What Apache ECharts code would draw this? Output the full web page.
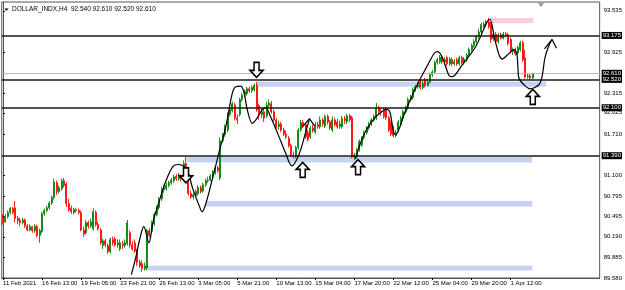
<!DOCTYPE html>
<html>
<head>
<meta charset="utf-8">
<script src="https://cdn.jsdelivr.net/npm/echarts@6/dist/echarts.min.js"></script>
<style>
  html, body { margin: 0; padding: 0; background: #fff; }
  #chart { width: 625px; height: 290px; }
</style>
</head>
<body>
<div id="chart"></div>
<script>
const symbolName = 'DOLLAR_INDX,H4'
const lastQuote = [92.540, 92.610, 92.520, 92.610]

// one label every 16 H4 bars
const timeLabels = ['11 Feb 2021', '16 Feb 13:00', '19 Feb 05:00', '23 Feb 21:00', '26 Feb 13:00',
  '3 Mar 05:00', '5 Mar 21:00', '10 Mar 13:00', '15 Mar 04:00', '17 Mar 20:00',
  '22 Mar 12:00', '25 Mar 04:00', '29 Mar 20:00', '1 Apr 12:00']
const labelStep = 16
const slotCount = 245

const priceTicks = [93.535, 92.925, 92.315, 92.025, 91.710, 91.100, 90.795, 90.495, 90.190, 89.885, 89.580]
const levels = [93.175, 92.520, 92.100, 91.390]
const bidPrice = 92.610

// [open, close, low, high]
const candles = [
  [90.47,90.41,90.37,90.52],[90.41,90.49,90.40,90.53],[90.49,90.55,90.46,90.58],[90.55,90.61,90.52,90.63],
  [90.61,90.55,90.52,90.63],[90.62,90.46,90.40,90.72],[90.46,90.43,90.38,90.50],[90.43,90.40,90.35,90.47],
  [90.40,90.44,90.37,90.47],[90.44,90.35,90.32,90.46],[90.35,90.29,90.27,90.38],[90.29,90.34,90.27,90.37],
  [90.34,90.28,90.25,90.35],[90.28,90.35,90.25,90.38],[90.34,90.21,90.18,90.37],[90.21,90.28,90.10,90.31],
  [90.27,90.53,90.24,90.56],[90.53,90.58,90.50,90.61],[90.58,90.62,90.55,90.65],[90.62,90.69,90.59,90.72],
  [90.69,90.77,90.66,90.80],[90.77,91.00,90.74,91.05],[90.99,90.86,90.81,91.02],[90.86,90.92,90.83,90.95],
  [90.90,91.02,90.87,91.05],[91.02,90.95,90.92,91.06],[90.97,90.68,90.63,91.00],[90.68,90.59,90.56,90.75],
  [90.61,90.56,90.53,90.65],[90.55,90.59,90.52,90.62],[90.59,90.58,90.55,90.62],[90.58,90.55,90.52,90.61],
  [90.55,90.29,90.27,90.58],[90.29,90.23,90.19,90.34],[90.25,90.40,90.22,90.44],[90.40,90.35,90.31,90.43],
  [90.35,90.41,90.32,90.46],[90.31,90.56,90.28,90.61],[90.55,90.37,90.34,90.58],[90.37,90.31,90.28,90.41],
  [90.29,90.10,90.07,90.32],[90.06,90.13,90.01,90.16],[90.13,90.07,90.04,90.16],[90.06,89.97,89.94,90.09],
  [89.97,90.15,89.94,90.18],[90.15,90.10,90.06,90.19],[90.16,90.07,90.04,90.19],[90.07,90.10,90.03,90.15],
  [90.01,90.10,89.98,90.15],[90.09,90.06,90.01,90.13],[90.06,90.10,90.03,90.15],[90.09,90.40,90.06,90.44],
  [90.25,90.07,90.03,90.28],[90.07,90.01,89.98,90.12],[90.10,89.98,89.95,90.15],[89.98,89.81,89.76,90.01],
  [89.81,89.76,89.73,89.85],[89.79,89.72,89.67,89.84],[89.72,89.76,89.69,89.81],[89.73,90.28,89.70,90.31],
  [90.28,90.21,90.18,90.32],[90.27,90.38,90.24,90.43],[90.38,90.52,90.35,90.55],[90.52,90.62,90.49,90.65],
  [90.62,90.74,90.59,90.78],[90.75,90.89,90.72,90.93],[90.89,90.92,90.84,90.96],[90.90,90.95,90.87,90.99],
  [90.95,90.99,90.92,91.02],[90.99,91.03,90.96,91.06],[91.02,91.08,90.99,91.11],[91.08,91.05,91.02,91.12],
  [91.05,91.09,91.02,91.14],[91.09,91.05,91.01,91.12],[91.08,91.27,91.05,91.32],[91.27,91.06,91.03,91.37],
  [91.06,90.83,90.80,91.09],[90.83,90.78,90.75,90.87],[90.78,90.81,90.74,90.84],[90.80,90.86,90.77,90.89],
  [90.83,90.92,90.80,90.95],[90.92,90.86,90.83,90.95],[90.87,90.96,90.84,90.99],[90.96,91.02,90.93,91.05],
  [91.02,91.03,90.99,91.08],[91.03,91.09,91.01,91.12],[91.09,91.15,91.06,91.18],[91.14,91.21,91.11,91.24],
  [91.21,91.17,91.14,91.24],[91.06,91.61,91.03,91.66],[91.61,91.70,91.58,91.73],[91.70,91.80,91.67,91.85],
  [91.77,92.00,91.74,92.03],[92.00,92.07,91.97,92.11],[92.06,92.16,92.03,92.19],[92.14,91.95,91.91,92.17],
  [91.95,91.92,91.86,92.00],[92.00,92.22,91.97,92.25],[92.22,92.29,92.19,92.32],[92.29,92.34,92.25,92.37],
  [92.31,92.38,92.28,92.41],[92.38,92.35,92.32,92.41],[92.35,92.40,92.32,92.43],[92.37,92.43,92.34,92.46],
  [92.43,92.07,92.04,92.48],[92.13,92.00,91.92,92.16],[92.00,92.04,91.95,92.10],[92.04,91.95,91.89,92.08],
  [91.98,92.14,91.95,92.19],[92.14,92.17,92.10,92.22],[92.16,92.04,92.01,92.20],[92.04,91.92,91.89,92.07],
  [91.92,91.82,91.79,91.95],[91.82,91.86,91.77,91.91],[91.86,91.77,91.74,91.89],[91.77,91.71,91.68,91.80],
  [91.71,91.67,91.64,91.76],[91.65,91.54,91.51,91.68],[91.54,91.40,91.37,91.57],[91.40,91.39,91.35,91.45],
  [91.37,91.51,91.35,91.54],[91.51,91.77,91.48,91.80],[91.77,91.88,91.74,91.92],[91.88,91.83,91.80,91.92],
  [91.85,91.67,91.64,91.88],[91.73,91.63,91.60,91.77],[91.67,91.80,91.64,91.83],[91.80,91.76,91.73,91.85],
  [91.74,91.85,91.71,91.89],[91.85,91.82,91.79,91.89],[91.82,91.92,91.79,91.97],[91.92,91.86,91.82,91.95],
  [91.83,91.97,91.80,92.00],[91.97,91.89,91.85,92.00],[91.89,91.80,91.77,91.92],[91.77,91.92,91.74,91.97],
  [91.92,91.85,91.82,91.95],[91.89,91.82,91.79,91.94],[91.82,91.86,91.79,91.91],[91.82,91.94,91.79,91.98],
  [91.94,91.91,91.86,91.98],[91.89,91.98,91.86,92.01],[91.98,91.92,91.89,92.01],[91.95,91.37,91.35,91.98],
  [91.37,91.40,91.33,91.43],[91.37,91.48,91.35,91.51],[91.48,91.60,91.45,91.63],[91.55,91.66,91.52,91.68],
  [91.66,91.73,91.63,91.76],[91.73,91.80,91.70,91.83],[91.80,91.86,91.77,91.89],[91.86,91.92,91.83,91.95],
  [91.92,91.97,91.89,92.00],[91.95,92.10,91.92,92.17],[92.10,92.04,92.01,92.13],[92.04,92.03,91.98,92.08],
  [92.07,91.97,91.94,92.10],[92.07,91.95,91.92,92.10],[91.95,91.77,91.74,91.98],[91.88,91.71,91.68,91.91],
  [91.80,91.69,91.66,91.83],[91.69,91.73,91.66,91.77],[91.77,91.89,91.74,91.92],[91.85,91.95,91.82,91.98],
  [91.95,92.04,91.92,92.07],[92.04,92.10,92.01,92.13],[92.10,92.22,92.07,92.25],[92.22,92.25,92.19,92.29],
  [92.25,92.37,92.22,92.40],[92.37,92.41,92.34,92.44],[92.41,92.44,92.38,92.48],[92.48,92.40,92.37,92.51],
  [92.40,92.46,92.37,92.50],[92.51,92.43,92.40,92.54],[92.43,92.48,92.41,92.53],[92.48,92.59,92.46,92.62],
  [92.59,92.63,92.56,92.66],[92.63,92.77,92.60,92.80],[92.77,92.81,92.74,92.84],[92.78,92.85,92.75,92.88],
  [92.85,92.78,92.75,92.88],[92.78,92.81,92.74,92.85],[92.84,92.75,92.72,92.87],[92.75,92.82,92.72,92.85],
  [92.81,92.75,92.72,92.84],[92.75,92.78,92.72,92.82],[92.81,92.75,92.72,92.84],[92.75,92.84,92.72,92.87],
  [92.84,92.77,92.74,92.87],[92.77,92.82,92.74,92.85],[92.81,92.88,92.78,92.91],[92.88,92.96,92.85,92.99],
  [92.96,93.02,92.93,93.05],[93.02,93.08,92.99,93.11],[93.08,93.15,93.05,93.18],[93.15,93.22,93.12,93.27],
  [93.22,93.33,93.19,93.36],[93.31,93.34,93.28,93.37],[93.34,93.37,93.30,93.40],[93.37,93.30,93.27,93.43],
  [93.33,93.11,93.06,93.37],[93.19,93.13,93.09,93.24],[93.19,93.08,93.05,93.22],[93.08,93.17,93.05,93.21],
  [93.18,93.13,93.11,93.21],[93.13,93.19,93.11,93.22],[93.19,93.17,93.14,93.22],[93.18,93.05,93.02,93.21],
  [93.11,92.93,92.90,93.14],[92.93,92.96,92.88,92.99],[92.96,92.90,92.87,92.99],[92.91,92.99,92.88,93.02],
  [92.96,93.06,92.93,93.09],[93.06,92.81,92.78,93.09],[92.84,92.56,92.53,92.96],[92.56,92.57,92.53,92.60],
  [92.57,92.54,92.51,92.60],[92.54,92.61,92.52,92.61]
]

// zones: [fromBar, toBar, top, bottom]
const blueZones = [
  [103.7, 222.6, 92.49, 92.41],
  [75.2, 216.9, 91.37, 91.29],
  [83.1, 216.9, 90.72, 90.64],
  [58.3, 216.9, 89.76, 89.69]
]
const pinkZones = [[199.7, 217.3, 93.43, 93.35]]

// hand drawn swings: [bar position, price]
const swingA = [
  [52.6,89.63],[54.4,89.88],[56.0,90.15],[57.7,90.34],[59.8,90.10],[61.4,90.40],[64.2,90.74],[66.9,91.03],
  [69.6,91.23],[71.6,91.26],[73.7,91.24],[75.7,91.16],[77.7,90.91],[80.5,90.64],[81.6,90.56],[83.2,90.69],
  [85.9,91.06],[88.6,91.45],[91.3,91.82],[94.0,92.32],[95.4,92.41],[97.4,92.42],[98.8,92.32],[100.1,92.07],
  [102.2,91.87],[104.2,91.95],[106.2,92.07],[107.6,92.10],[109.6,91.97],[113.0,91.68],[115.8,91.43],
  [118.4,91.24],[121.2,91.40],[123.9,91.72],[125.6,91.94]
]
const headA = [[122.8,91.82],[125.6,91.94],[127.7,91.83]]
const swingB = [
  [144.3,91.34],[145.6,91.48],[147.6,91.68],[149.7,91.82],[152.4,91.95],[155.1,92.04],[157.1,92.08],
  [158.5,92.04],[159.9,91.77],[160.8,91.70],[165.1,92.07],[170.0,92.46],[173.4,92.69],[176.8,92.91],
  [178.2,92.93],[180.2,92.83],[182.9,92.57],[184.2,92.56],[187.7,92.71],[193.8,93.01],[198.5,93.38],
  [199.6,93.41],[201.3,93.15],[203.3,92.88],[204.6,92.82],[206.7,92.88],[209.4,92.96],[210.5,92.91],
  [211.0,92.71],[211.4,92.54],[213.5,92.44],[216.0,92.38],[219.6,92.44],[220.9,92.56],[222.1,92.84],
  [223.7,93.02],[225.0,93.11]
]
const headB = [[221.9,92.97],[225.0,93.11],[226.8,92.98]]

const arrowsDown = [[75.0, 91.10], [103.9, 92.66]]
const arrowsUp = [[122.8, 91.18], [145.5, 91.22], [217.1, 92.26]]

const FONT = 'Liberation Sans'
const arrowPath = 'path://M6.5,0 L13,7 L9,7 L9,15 L4,15 L4,7 L0,7 Z'
const categories = Array.from({ length: slotCount }, (_, i) => String(i))
const showLabel = (idx) => idx % labelStep === 0 && idx / labelStep < timeLabels.length

const chart = echarts.init(document.getElementById('chart'), null, { renderer: 'canvas' })

const boxLabel = (v) => ({
  show: true,
  position: 'end',
  formatter: v.toFixed(3),
  color: '#fff',
  backgroundColor: '#000',
  fontSize: 6,
  fontFamily: FONT,
  padding: [1, 1, 0, 1],
  distance: 2
})

const swingSeries = (data, smooth) => ({
  type: 'line',
  xAxisIndex: 1,
  data,
  smooth,
  showSymbol: false,
  symbol: 'none',
  silent: true,
  z: 5,
  lineStyle: { color: '#000', width: 1.2 }
})

const option = {
  animation: false,
  backgroundColor: '#fff',
  title: {
    text: symbolName + '  ' + lastQuote.map(v => v.toFixed(3)).join(' '),
    left: 12,
    top: 6,
    padding: 0,
    textStyle: { fontSize: 6.5, fontWeight: 'normal', color: '#000', fontFamily: FONT }
  },
  graphic: [
    { type: 'polygon', shape: { points: [[4.5, 8.5], [8.5, 8.5], [6.5, 11]] }, style: { fill: '#000' } },
    { type: 'polygon', shape: { points: [[538, 3], [544, 3], [541, 7]] }, style: { fill: '#999' } }
  ],
  grid: {
    left: 1, right: 23, top: 2, bottom: 12,
    show: true, borderColor: '#555', borderWidth: 1, backgroundColor: '#fff'
  },
  xAxis: [
    {
      type: 'category',
      data: categories,
      boundaryGap: true,
      axisLine: { show: true, lineStyle: { color: '#555' } },
      axisTick: { show: true, interval: showLabel, alignWithLabel: true, length: 2, lineStyle: { color: '#000' } },
      axisLabel: {
        interval: showLabel,
        formatter: (val, idx) => timeLabels[idx / labelStep] || '',
        align: 'left',
        margin: 2,
        fontSize: 6,
        color: '#000',
        fontFamily: FONT
      },
      splitLine: { show: false }
    },
    { type: 'value', min: -0.5, max: slotCount - 0.5, show: false }
  ],
  yAxis: {
    type: 'value',
    position: 'right',
    min: 89.58,
    max: 93.665,
    splitLine: { show: false },
    axisLine: { show: true, lineStyle: { color: '#555' } },
    axisTick: { show: true, customValues: priceTicks, length: 2, lineStyle: { color: '#000' } },
    axisLabel: {
      customValues: priceTicks,
      formatter: v => v.toFixed(3),
      fontSize: 6,
      color: '#000',
      margin: 4,
      fontFamily: FONT
    }
  },
  series: [
    {
      type: 'line',
      xAxisIndex: 1,
      data: [],
      z: 1,
      markArea: {
        silent: true,
        itemStyle: { color: '#c6d2f2' },
        data: blueZones.map(z => [{ coord: [z[0], z[2]] }, { coord: [z[1], z[3]] }])
      }
    },
    {
      type: 'line',
      xAxisIndex: 1,
      data: [],
      z: 1,
      markArea: {
        silent: true,
        itemStyle: { color: '#f9cdd6' },
        data: pinkZones.map(z => [{ coord: [z[0], z[2]] }, { coord: [z[1], z[3]] }])
      }
    },
    {
      type: 'candlestick',
      xAxisIndex: 0,
      data: candles,
      barWidth: 1.5,
      z: 2,
      itemStyle: {
        color: '#0a860a',
        color0: '#ff0c0c',
        borderColor: '#0a860a',
        borderColor0: '#ff0c0c',
        borderWidth: 0.9
      }
    },
    {
      type: 'line',
      xAxisIndex: 1,
      data: [],
      z: 4,
      markLine: {
        silent: true,
        symbol: ['none', 'none'],
        data: [
          { yAxis: bidPrice, lineStyle: { color: '#b8b8b8', width: 1, type: 'solid' }, label: boxLabel(bidPrice) },
          ...levels.map(v => ({
            yAxis: v,
            lineStyle: { color: '#1a1a1a', width: 1.6, type: 'solid' },
            label: boxLabel(v)
          }))
        ]
      }
    },
    swingSeries(swingA, 0.35),
    swingSeries(headA, false),
    swingSeries(swingB, 0.3),
    swingSeries(headB, false),
    {
      type: 'scatter',
      xAxisIndex: 1,
      z: 6,
      silent: true,
      symbol: arrowPath,
      symbolSize: [13, 15],
      itemStyle: { color: '#fff', borderColor: '#000', borderWidth: 1.6, opacity: 1 },
      data: [
        ...arrowsDown.map(p => ({ value: p, symbolRotate: 180 })),
        ...arrowsUp.map(p => ({ value: p }))
      ]
    }
  ]
}

chart.setOption(option)
window.addEventListener('resize', () => chart.resize())
</script>
</body>
</html>
